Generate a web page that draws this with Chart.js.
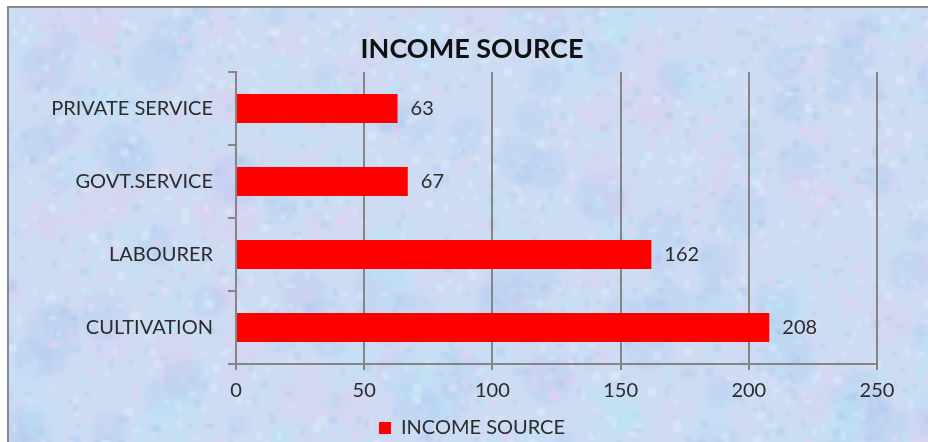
<!DOCTYPE html>
<html>
<head>
<meta charset="utf-8">
<script src="https://cdn.jsdelivr.net/npm/chart.js@4/dist/chart.umd.min.js"></script>
<style>
  html, body { margin: 0; padding: 0; background: #fff; overflow: hidden; }
  #frame {
    position: absolute; left: 7px; top: 6px; width: 960px; height: 460px;
    border-left: 2px solid #8a8a8a; border-top: 2px solid #8a8a8a;
    background-color: #cddcf3;
    background-size: 960px 460px;
  }
  #wrap { position: absolute; left: 0; top: 0; width: 944px; height: 448px; }
</style>
</head>
<body>
<div id="frame"></div>
<div id="wrap"><canvas id="incomeChart" width="944" height="448"></canvas></div>
<script>
// income source data (top to bottom as in the picture)
const categories = ['PRIVATE SERVICE', 'GOVT.SERVICE', 'LABOURER', 'CULTIVATION'];
const incomeValues = [63, 67, 162, 208];
const seriesName = 'INCOME SOURCE';
const xTicks = [0, 50, 100, 150, 200, 250];

const FONT = 'Lato, "Open Sans", sans-serif';
const TEXT = '#2b2b2b';
const GRID = '#858585';

// mottled pastel background: small dotted canvas, stretched so it goes soft
const paintTexture = () => {
  const c = document.createElement('canvas');
  c.width = 240; c.height = 115;
  const g = c.getContext('2d');
  g.fillStyle = '#cddcf3';
  g.fillRect(0, 0, c.width, c.height);
  let seed = 7;
  const rnd = () => { seed = (seed * 16807) % 2147483647; return seed / 2147483647; };
  // soft patches of pink / cyan / blue
  const patches = ['rgba(228,204,240,0.28)', 'rgba(186,232,248,0.3)', 'rgba(172,198,240,0.25)'];
  for (let i = 0; i < 260; i++) {
    g.fillStyle = patches[Math.floor(rnd() * patches.length)];
    g.beginPath();
    g.arc(rnd() * c.width, rnd() * c.height, 2 + rnd() * 5, 0, Math.PI * 2);
    g.fill();
  }
  // fine grain
  const tints = ['rgba(230,208,240,0.45)', 'rgba(190,230,246,0.45)', 'rgba(176,200,238,0.4)', 'rgba(226,236,250,0.5)'];
  for (let i = 0; i < 2500; i++) {
    g.fillStyle = tints[Math.floor(rnd() * tints.length)];
    g.fillRect(Math.floor(rnd() * c.width), Math.floor(rnd() * c.height), 1 + Math.floor(rnd() * 2), 1 + Math.floor(rnd() * 2));
  }
  document.getElementById('frame').style.backgroundImage = `url(${c.toDataURL()})`;
};
paintTexture();

const valueLabels = {
  id: 'valueLabels',
  afterDatasetsDraw(chart) {
    const ctx = chart.ctx;
    const meta = chart.getDatasetMeta(0);
    ctx.save();
    ctx.font = `20px ${FONT}`;
    ctx.fillStyle = TEXT;
    ctx.textAlign = 'left';
    ctx.textBaseline = 'middle';
    meta.data.forEach((bar, i) => {
      ctx.fillText(String(incomeValues[i]), bar.x + 13, bar.y);
    });
    ctx.restore();
  }
};

const ctx = document.getElementById('incomeChart').getContext('2d');

new Chart(ctx, {
  type: 'bar',
  data: {
    labels: categories,
    datasets: [
      {
        label: seriesName,
        data: incomeValues,
        backgroundColor: '#ff0000',
        borderWidth: 0,
        barPercentage: 0.4,
        categoryPercentage: 1,
        yAxisID: 'y',
      },
    ],
  },
  options: {
    indexAxis: 'y',
    responsive: false,
    animation: false,
    layout: { padding: 0 },
    plugins: {
      title: {
        display: true,
        text: 'INCOME SOURCE',
        color: '#111111',
        font: { family: FONT, size: 27, weight: 'bold', lineHeight: 1.2 },
        padding: { top: 33, bottom: 6.6 },
      },
      legend: {
        position: 'bottom',
        labels: {
          color: TEXT,
          font: { family: FONT, size: 20 },
          boxWidth: 12,
          boxHeight: 12,
          padding: 10,
        },
      },
      tooltip: { enabled: false },
    },
    scales: {
      x: {
        min: 0,
        max: 250,
        afterBuildTicks: scale => { scale.ticks = xTicks.map(v => ({ value: v })); },
        afterFit: scale => { scale.height = 44; },
        ticks: { color: TEXT, font: { family: FONT, size: 20 }, padding: 9, maxRotation: 0 },
        grid: { color: GRID, lineWidth: 2, tickLength: 6, tickColor: GRID },
        border: { color: GRID, width: 2 },
      },
      y: {
        afterFit: scale => { scale.width = 236; },
        ticks: { color: TEXT, font: { family: FONT, size: 20 }, padding: 15 },
        grid: { offset: true, drawOnChartArea: false, tickLength: 8, tickColor: GRID, lineWidth: 2 },
        border: { color: GRID, width: 2 },
      },
      // empty right-hand strip so the plot ends where the picture's does
      y2: {
        type: 'linear',
        position: 'right',
        afterFit: scale => { scale.width = 67; },
        ticks: { display: false },
        grid: { display: false },
        border: { display: false },
      },
    },
  },
  plugins: [valueLabels],
});
</script>
</body>
</html>
